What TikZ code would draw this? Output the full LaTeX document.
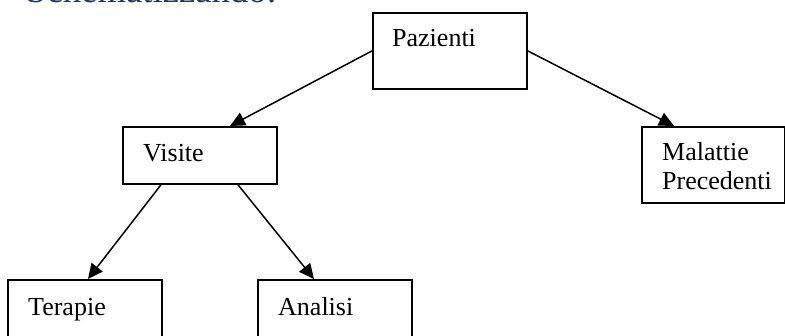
\documentclass[tikz,border=0pt]{standalone}
\usepackage{fontspec}
\setmainfont{Liberation Serif}
\usetikzlibrary{arrows.meta,calc}
\definecolor{titleblue}{RGB}{31,56,100}
\tikzset{
  box/.style={draw=black, line width=1.8pt, rectangle, anchor=north west, inner sep=0pt, minimum width=154pt},
  lbl/.style={anchor=base west, inner sep=0pt, align=left, font=\fontsize{26}{29.5}\selectfont},
  conn/.style={line width=1.5pt, -{Triangle[length=15pt,width=14pt]}},
}
\begin{document}
\begin{tikzpicture}[x=1pt,y=-1pt]
\useasboundingbox (0,0) rectangle (785,336);
\clip (0,0) rectangle (785,336);
% title (cut off at the top)
\node[anchor=base west, inner sep=0pt, text=titleblue, font=\fontsize{36.7}{40}\selectfont] (title) at (26,3) {Schematizzando:};
% boxes
\node[box, minimum height=76pt] (paz) at (372,12) {};
\node[lbl] (pazt) at (392,47) {Pazienti};
\node[box, minimum height=57pt] (vis) at (122,126) {};
\node[lbl] (vist) at (143,162) {Visite};
\node[box, minimum width=143pt, minimum height=76pt] (mal) at (641,126) {};
\node[lbl] (malt) at (662,190) {Malattie\\Precedenti};
\node[box, minimum height=80pt] (ter) at (7,279) {};
\node[lbl] (tert) at (28,316) {Terapie};
\node[box, minimum height=80pt] (ana) at (257,279) {};
\node[lbl] (anat) at (278,316) {Analisi};
% connectors
\draw[conn] (paz.west) -- ($(vis.north west)+(108,0)$);
\draw[conn] (paz.east) -- ($(mal.north west)+(33,0)$);
\draw[conn] ($(vis.south west)+(39,0)$) -- ($(ter.north west)+(81,0)$);
\draw[conn] ($(vis.south west)+(116,0)$) -- ($(ana.north west)+(57,0)$);
\end{tikzpicture}
\end{document}
